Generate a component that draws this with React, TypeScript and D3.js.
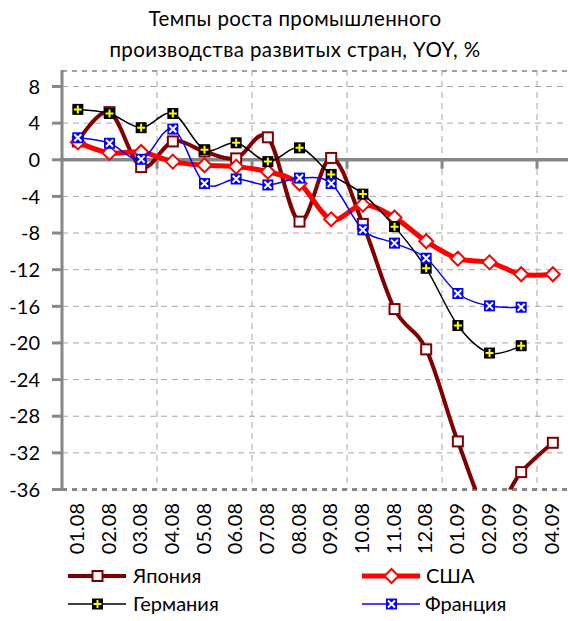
import React from "react";
import * as d3 from "d3";

const categories = ["01.08","02.08","03.08","04.08","05.08","06.08","07.08","08.08","09.08","10.08","11.08","12.08","01.09","02.09","03.09","04.09"];
const japan = [2.0, 5.2, -0.8, 2.0, 0.9, 0.15, 2.45, -6.75, 0.2, -7.0, -16.3, -20.7, -30.75, -38.5, -34.1, -30.9];
const usa = [1.9, 0.75, 0.85, -0.2, -0.6, -0.75, -1.3, -2.6, -6.5, -4.9, -6.3, -8.9, -10.8, -11.2, -12.5, -12.5];
const germany = [5.5, 5.05, 3.5, 5.05, 1.1, 1.85, -0.2, 1.3, -1.6, -3.75, -7.3, -11.85, -18.1, -21.1, -20.3];
const france = [2.4, 1.8, 0.05, 3.35, -2.6, -2.1, -2.75, -2.0, -2.6, -7.65, -9.1, -10.75, -14.6, -15.95, -16.1];
const yTicks = [8, 4, 0, -4, -8, -12, -16, -20, -24, -28, -32, -36];
const titleLines = ["Темпы роста промышленного", "производства развитых стран, YOY, %"];
const legendNames = ["Япония", "США", "Германия", "Франция"];

const W = 568, H = 621;
const L = 62, R = 568.7, T = 70, B = 489.5;
const FONT = "Lato, 'Open Sans', sans-serif";

const x = d3.scaleBand<string>().domain(categories).range([L, R]).padding(0);
const cx = (i: number) => (x(categories[i]) as number) + x.bandwidth() / 2;
const y = d3.scaleLinear().domain([-36, 9.8]).range([B, T]);

const lineGen = (vals: number[]) =>
  d3.line<number>().x((_, i) => cx(i)).y((v) => y(v)).curve(d3.curveCardinal.tension(0))(vals) || "";

type MarkerKind = "japan" | "usa" | "germany" | "france";

function Marker({ kind, px, py }: { kind: MarkerKind; px: number; py: number }) {
  if (kind === "japan") {
    const s = 10;
    return <rect x={px - s / 2} y={py - s / 2} width={s} height={s} fill="#fff" stroke="#800000" strokeWidth={2} />;
  }
  if (kind === "usa") {
    const r = 7;
    return <path d={`M${px},${py - r}L${px + r},${py}L${px},${py + r}L${px - r},${py}Z`} fill="#fff" stroke="#ff0000" strokeWidth={2} />;
  }
  if (kind === "germany") {
    const s = 11, a = 4;
    return (
      <g>
        <rect x={px - s / 2} y={py - s / 2} width={s} height={s} fill="#000" />
        <path d={`M${px - a},${py}H${px + a}M${px},${py - a}V${py + a}`} stroke="#ffff00" strokeWidth={2} />
      </g>
    );
  }
  const s = 11, a = 3.5;
  return (
    <g>
      <rect x={px - s / 2} y={py - s / 2} width={s} height={s} fill="#0000ff" />
      <path d={`M${px - a},${py - a}L${px + a},${py + a}M${px + a},${py - a}L${px - a},${py + a}`} stroke="#fff" strokeWidth={2} />
    </g>
  );
}

const series: { name: string; vals: number[]; color: string; width: number; kind: MarkerKind }[] = [
  { name: legendNames[0], vals: japan, color: "#800000", width: 4, kind: "japan" },
  { name: legendNames[1], vals: usa, color: "#ff0000", width: 5, kind: "usa" },
  { name: legendNames[2], vals: germany, color: "#000000", width: 1.5, kind: "germany" },
  { name: legendNames[3], vals: france, color: "#0000ff", width: 1.5, kind: "france" },
];

export default function App() {
  const boundaries = [3, 6, 9, 12, 15].map((k) => L + k * x.bandwidth());
  const legendPos = [
    { lx: 68, tx: 133, ly: 576 },
    { lx: 362, tx: 426, ly: 576 },
    { lx: 68, tx: 133, ly: 604 },
    { lx: 362, tx: 425, ly: 604 },
  ];
  return (
    <svg width={W} height={H} style={{ position: "absolute", left: 0, top: 0, background: "#fff" }} fontFamily={FONT}>
      <defs>
        <clipPath id="plot">
          <rect x={L} y={T} width={R - L} height={B - T} />
        </clipPath>
      </defs>
      {titleLines.map((t, i) => (
        <text key={i} x={295} y={26 + i * 31} textAnchor="middle" fontSize={20.5} letterSpacing={0.4} fill="#000">{t}</text>
      ))}
      {/* grid */}
      {yTicks.filter((t) => t !== -36 && t !== 0).map((t) => (
        <line key={t} x1={L} x2={R} y1={y(t)} y2={y(t)} stroke="#a6a6a6" strokeWidth={1} strokeDasharray="6,5" />
      ))}
      {boundaries.map((bx, i) => (
        <line key={i} x1={bx} x2={bx} y1={T} y2={B} stroke="#a6a6a6" strokeWidth={1} strokeDasharray="6,5" />
      ))}
      <line x1={L} x2={R} y1={T + 1} y2={T + 1} stroke="#a0a0a0" strokeWidth={2} strokeDasharray="5,5" />
      <line x1={L} x2={R} y1={B} y2={B} stroke="#888" strokeWidth={3} strokeDasharray="5,5" />
      {/* zero axis */}
      <line x1={L} x2={R} y1={y(0)} y2={y(0)} stroke="#878787" strokeWidth={3.5} />
      {boundaries.map((bx, i) => (
        <line key={i} x1={bx} x2={bx} y1={y(0)} y2={y(0) + 9} stroke="#878787" strokeWidth={3} />
      ))}
      {/* y axis */}
      <line x1={L} x2={L} y1={T} y2={B + 1} stroke="#878787" strokeWidth={3} />
      {yTicks.map((t) => (
        <g key={t}>
          <line x1={L - 10} x2={L} y1={y(t)} y2={y(t)} stroke="#878787" strokeWidth={3} />
          <text x={40} y={y(t)} dy="0.36em" textAnchor="end" fontSize={20} fill="#000">{t}</text>
        </g>
      ))}
      {/* x labels */}
      {categories.map((c, i) => (
        <text key={c} transform={`translate(${cx(i) - 1},${503}) rotate(-90)`} dy="0.36em" textAnchor="end" fontSize={20} fill="#000">{c}</text>
      ))}
      {/* series */}
      <g clipPath="url(#plot)">
        {series.map((s) => (
          <g key={s.name}>
            <path d={lineGen(s.vals)} fill="none" stroke={s.color} strokeWidth={s.width} strokeLinejoin="round" />
            {s.vals.map((v, i) => (
              <Marker key={i} kind={s.kind} px={cx(i)} py={y(v)} />
            ))}
          </g>
        ))}
      </g>
      {/* legend */}
      {series.map((s, i) => {
        const p = legendPos[i];
        return (
          <g key={s.name}>
            <line x1={p.lx} x2={p.lx + 58} y1={p.ly} y2={p.ly} stroke={s.color} strokeWidth={s.width} />
            <Marker kind={s.kind} px={p.lx + 29.5} py={p.ly} />
            <text x={p.tx} y={p.ly} dy="0.36em" fontSize={20} fill="#000">{s.name}</text>
          </g>
        );
      })}
    </svg>
  );
}
